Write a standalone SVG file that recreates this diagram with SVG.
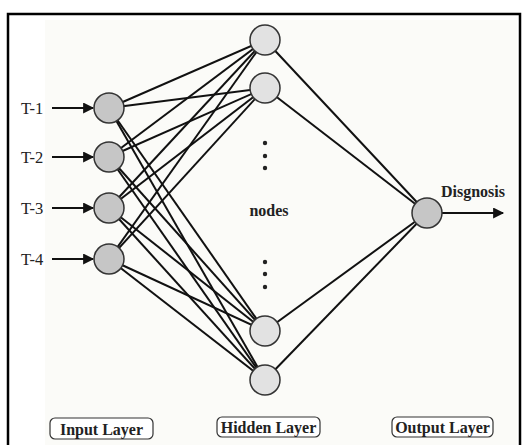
<svg xmlns="http://www.w3.org/2000/svg" width="522" height="445" viewBox="0 0 522 445">
<style>
.ln{stroke:#111;stroke-width:2;fill:none}
.in{fill:#c6c6c6;stroke:#333;stroke-width:1.5}
.hd{fill:#e2e2e2;stroke:#333;stroke-width:1.5}
.lbl{font-family:"Liberation Serif",serif;font-size:16.5px;fill:#222}
.b{font-family:"Liberation Serif",serif;font-weight:bold;font-size:16px;fill:#222}
.box{fill:#fff;stroke:#333;stroke-width:1.2}
.dot{fill:#222}
</style>
<defs>
<marker id="ah" viewBox="0 0 10 10" refX="9" refY="5" markerWidth="6" markerHeight="5.5" markerUnits="strokeWidth" orient="auto">
<path d="M0,0 L10,5 L0,10 z" fill="#111"/>
</marker>
</defs>
<rect x="0" y="0" width="522" height="445" fill="#fff"/>
<rect x="45" y="20" width="472" height="425" fill="#fbfbf8"/>
<path d="M8,445 V14 H520 V445" fill="none" stroke="#000" stroke-width="2.5"/>
<g id="connectors">
<line class="ln" x1="109" y1="108" x2="265" y2="40"/>
<line class="ln" x1="109" y1="108" x2="265" y2="88"/>
<line class="ln" x1="109" y1="108" x2="265" y2="331"/>
<line class="ln" x1="109" y1="108" x2="265" y2="380"/>
<line class="ln" x1="109" y1="157" x2="265" y2="40"/>
<line class="ln" x1="109" y1="157" x2="265" y2="88"/>
<line class="ln" x1="109" y1="157" x2="265" y2="331"/>
<line class="ln" x1="109" y1="157" x2="265" y2="380"/>
<line class="ln" x1="109" y1="208" x2="265" y2="40"/>
<line class="ln" x1="109" y1="208" x2="265" y2="88"/>
<line class="ln" x1="109" y1="208" x2="265" y2="331"/>
<line class="ln" x1="109" y1="208" x2="265" y2="380"/>
<line class="ln" x1="109" y1="259" x2="265" y2="40"/>
<line class="ln" x1="109" y1="259" x2="265" y2="88"/>
<line class="ln" x1="109" y1="259" x2="265" y2="331"/>
<line class="ln" x1="109" y1="259" x2="265" y2="380"/>
<line class="ln" x1="265" y1="40" x2="427" y2="213"/>
<line class="ln" x1="265" y1="88" x2="427" y2="213"/>
<line class="ln" x1="265" y1="331" x2="427" y2="213"/>
<line class="ln" x1="265" y1="380" x2="427" y2="213"/>
<line class="ln" x1="52" y1="108" x2="93" y2="108" marker-end="url(#ah)"/>
<line class="ln" x1="52" y1="157" x2="93" y2="157" marker-end="url(#ah)"/>
<line class="ln" x1="52" y1="208" x2="93" y2="208" marker-end="url(#ah)"/>
<line class="ln" x1="52" y1="259" x2="93" y2="259" marker-end="url(#ah)"/>
<line class="ln" x1="442" y1="213" x2="503" y2="213" marker-end="url(#ah)"/>
</g>
<g id="input-1"><circle class="in" cx="109" cy="108" r="15"/><text class="lbl" x="21" y="114">T-1</text></g>
<g id="input-2"><circle class="in" cx="109" cy="157" r="15"/><text class="lbl" x="21" y="163">T-2</text></g>
<g id="input-3"><circle class="in" cx="109" cy="208" r="15"/><text class="lbl" x="21" y="214">T-3</text></g>
<g id="input-4"><circle class="in" cx="109" cy="259" r="15"/><text class="lbl" x="21" y="265">T-4</text></g>
<g id="hidden-1"><circle class="hd" cx="265" cy="40" r="15"/></g>
<g id="hidden-2"><circle class="hd" cx="265" cy="88" r="15"/></g>
<g id="hidden-3"><circle class="hd" cx="265" cy="331" r="15"/></g>
<g id="hidden-4"><circle class="hd" cx="265" cy="380" r="15"/></g>
<g id="hidden-dots">
<circle class="dot" cx="265" cy="143" r="2.2"/><circle class="dot" cx="265" cy="156" r="2.2"/><circle class="dot" cx="265" cy="168" r="2.2"/>
<circle class="dot" cx="265" cy="262" r="2.2"/><circle class="dot" cx="265" cy="274" r="2.2"/><circle class="dot" cx="265" cy="287" r="2.2"/>
<text class="b" x="269" y="216" text-anchor="middle" font-size="16.5">nodes</text>
</g>
<g id="output"><circle class="in" cx="427" cy="213" r="15"/><text class="b" x="473" y="197" text-anchor="middle" font-size="18">Disgnosis</text></g>
<g id="label-input"><rect class="box" x="50" y="418" width="103" height="21" rx="5"/><text class="b" x="101.5" y="435" text-anchor="middle" font-size="17">Input Layer</text></g>
<g id="label-hidden"><rect class="box" x="217" y="417" width="103" height="20" rx="5"/><text class="b" x="268.5" y="433" text-anchor="middle" font-size="15.5">Hidden Layer</text></g>
<g id="label-output"><rect class="box" x="392" y="417" width="101" height="20" rx="5"/><text class="b" x="442.5" y="433" text-anchor="middle" font-size="15.5">Output Layer</text></g>
</svg>
